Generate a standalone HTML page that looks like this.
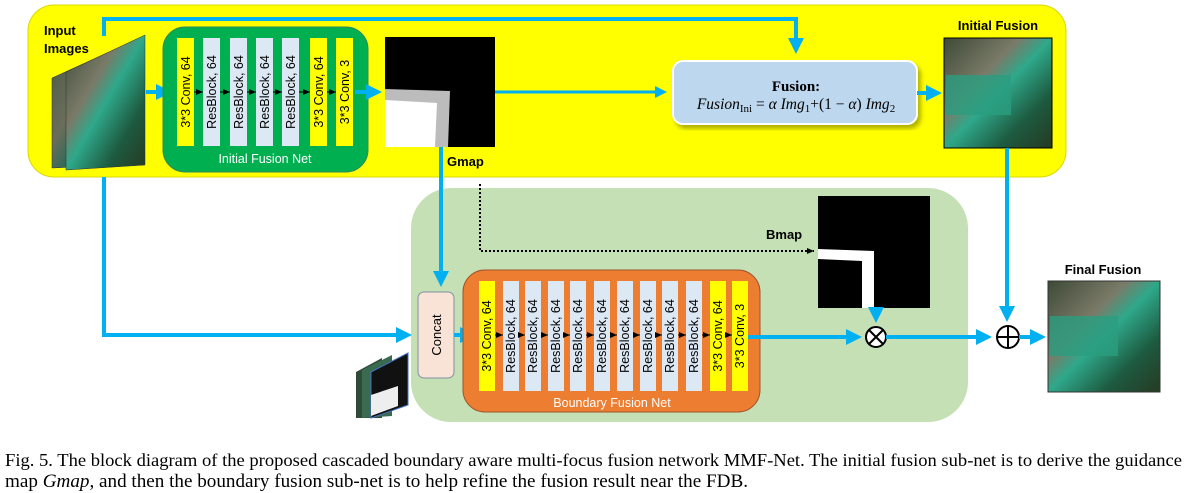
<!DOCTYPE html>
<html><head><meta charset="utf-8"><style>
html,body{margin:0;padding:0;background:#fff;width:1187px;height:493px;overflow:hidden}
svg{display:block}
.s{font-family:"Liberation Sans",sans-serif}
.blk{font-family:"Liberation Sans",sans-serif;font-size:12.5px;fill:#000}
</style></head><body>
<svg width="1187" height="493" viewBox="0 0 1187 493" xmlns="http://www.w3.org/2000/svg">
<defs>
<marker id="a" markerWidth="4" markerHeight="4" refX="3" refY="2" orient="auto" markerUnits="strokeWidth"><path d="M0,0 L4,2 L0,4 z" fill="#00b0f0"/></marker>
<marker id="k" markerWidth="8" markerHeight="8" refX="7" refY="4" orient="auto" markerUnits="userSpaceOnUse"><path d="M0,1 L7,4 L0,7 z" fill="#000"/></marker>
<linearGradient id="img" x1="0" y1="0" x2="1" y2="1"><stop offset="0" stop-color="#4a5a45"/><stop offset="0.4" stop-color="#6a6e5a"/><stop offset="0.6" stop-color="#2d6a5a"/><stop offset="1" stop-color="#1f3a25"/></linearGradient>
<linearGradient id="img2" x1="0" y1="0" x2="1" y2="1"><stop offset="0" stop-color="#3d4a36"/><stop offset="0.35" stop-color="#7a7a68"/><stop offset="0.5" stop-color="#2fa88a"/><stop offset="0.75" stop-color="#1d5a40"/><stop offset="1" stop-color="#263a22"/></linearGradient>
<filter id="sh"><feDropShadow dx="3" dy="4" stdDeviation="2" flood-color="#000" flood-opacity="0.3"/></filter>
</defs>

<rect x="28" y="5" width="1038" height="172" rx="26" fill="#ffff00" stroke="#d8d800" stroke-width="1"/>
<rect x="411" y="188" width="557" height="234" rx="40" fill="#c5e0b4"/>

<polyline points="104,36 104,19 796,19 796,50" fill="none" stroke="#00b0f0" stroke-width="4" marker-end="url(#a)"/>

<polygon points="52,78 118,48 118,165 52,168" fill="url(#img)" stroke="#333" stroke-width="0.5"/>
<polygon points="66,72 145,35 145,165 66,170" fill="url(#img2)" stroke="#333" stroke-width="0.5"/>
<text x="44" y="35" class="s" font-size="13" font-weight="bold">Input</text>
<text x="44" y="53" class="s" font-size="13" font-weight="bold">Images</text>

<line x1="146" y1="92" x2="168" y2="92" stroke="#00b0f0" stroke-width="4" marker-end="url(#a)"/>

<rect x="163" y="27" width="205" height="145" rx="22" fill="#00b050" stroke="#2e8b57"/>
<g>
<rect x="177" y="38" width="17" height="108" fill="#ffff00"/>
<rect x="203" y="38" width="17" height="108" fill="#dde8f5"/>
<rect x="230" y="38" width="17" height="108" fill="#dde8f5"/>
<rect x="256" y="38" width="17" height="108" fill="#dde8f5"/>
<rect x="282" y="38" width="17" height="108" fill="#dde8f5"/>
<rect x="310" y="38" width="17" height="108" fill="#ffff00"/>
<rect x="336" y="38" width="17" height="108" fill="#ffff00"/>
</g>
<g stroke="#000" stroke-width="1">
<line x1="194" y1="92" x2="203" y2="92" marker-end="url(#k)"/>
<line x1="220" y1="92" x2="230" y2="92" marker-end="url(#k)"/>
<line x1="247" y1="92" x2="256" y2="92" marker-end="url(#k)"/>
<line x1="273" y1="92" x2="282" y2="92" marker-end="url(#k)"/>
<line x1="299" y1="92" x2="310" y2="92" marker-end="url(#k)"/>
<line x1="327" y1="92" x2="336" y2="92" marker-end="url(#k)"/>
</g>
<g class="blk">
<text transform="translate(190,92) rotate(-90)" text-anchor="middle">3*3 Conv, 64</text>
<text transform="translate(216,92) rotate(-90)" text-anchor="middle">ResBlock, 64</text>
<text transform="translate(243,92) rotate(-90)" text-anchor="middle">ResBlock, 64</text>
<text transform="translate(269,92) rotate(-90)" text-anchor="middle">ResBlock, 64</text>
<text transform="translate(295,92) rotate(-90)" text-anchor="middle">ResBlock, 64</text>
<text transform="translate(323,92) rotate(-90)" text-anchor="middle">3*3 Conv, 64</text>
<text transform="translate(349,92) rotate(-90)" text-anchor="middle">3*3 Conv, 3</text>
</g>
<text x="265" y="163" class="s" font-size="12.5" fill="#fff" text-anchor="middle">Initial Fusion Net</text>

<line x1="355" y1="92" x2="378" y2="92" stroke="#00b0f0" stroke-width="4" marker-end="url(#a)"/>

<rect x="385" y="37" width="110" height="110" fill="#000"/>
<polygon points="385,89 450,91 448,147 385,147" fill="#bcbcbc"/>
<polygon points="385,100 437,103 435,147 385,147" fill="#fff"/>
<text x="447" y="166" class="s" font-size="13" font-weight="bold">Gmap</text>

<line x1="495" y1="92" x2="664" y2="92" stroke="#00b0f0" stroke-width="3" marker-end="url(#a)"/>

<rect x="673" y="61" width="244" height="63" rx="10" fill="#bdd7ee" stroke="#fff" stroke-width="2" filter="url(#sh)"/>
<text x="796" y="91" font-family="Liberation Serif,serif" font-size="15" font-weight="bold" text-anchor="middle">Fusion:</text>
<text x="796" y="109" font-family="Liberation Serif,serif" font-size="15.5" text-anchor="middle"><tspan font-style="italic">Fusion</tspan><tspan font-size="11" dy="3">Ini</tspan><tspan dy="-3"> = </tspan><tspan font-style="italic">α Img</tspan><tspan font-size="11" dy="3">1</tspan><tspan dy="-3">+(1 − </tspan><tspan font-style="italic">α</tspan>) <tspan font-style="italic">Img</tspan><tspan font-size="11" dy="3">2</tspan></text>

<line x1="917" y1="93" x2="938" y2="93" stroke="#00b0f0" stroke-width="4" marker-end="url(#a)"/>

<rect x="944" y="38" width="108" height="110" fill="url(#img2)" stroke="#000"/>
<rect x="946" y="75" width="65" height="40" fill="#2a9e80" opacity="0.8"/>
<text x="998" y="30" class="s" font-size="13" font-weight="bold" text-anchor="middle">Initial Fusion</text>

<line x1="1007" y1="148" x2="1007" y2="318" stroke="#00b0f0" stroke-width="4" marker-end="url(#a)"/>

<polyline points="104,177 104,335 408,335" fill="none" stroke="#00b0f0" stroke-width="4" marker-end="url(#a)"/>
<line x1="441" y1="147" x2="441" y2="283" stroke="#00b0f0" stroke-width="4" marker-end="url(#a)"/>

<polyline points="480,184 480,251 814,251" fill="none" stroke="#000" stroke-width="2" stroke-dasharray="2,2" marker-end="url(#k)"/>

<rect x="818" y="196" width="112" height="112" fill="#000"/>
<polygon points="818,249 874,251 874,308 862,308 862,261 818,259" fill="#fff"/>
<text x="766" y="239" class="s" font-size="13" font-weight="bold">Bmap</text>

<rect x="418" y="292" width="36" height="86" rx="6" fill="#f9e3d6" stroke="#7f8fa6"/>
<text transform="translate(441,335) rotate(-90)" class="s" font-size="13" text-anchor="middle">Concat</text>

<polygon points="356,372 382,358 382,418 356,418" fill="#2f4a38"/>
<polygon points="362,370 392,355 392,416 362,418" fill="#3a6a50"/>
<polygon points="371,372 408,353 408,405 371,418" fill="#111" stroke="#4472c4"/>
<polygon points="371,395 398,386 398,406 371,416" fill="#eee"/>

<line x1="454" y1="335" x2="472" y2="335" stroke="#00b0f0" stroke-width="4" marker-end="url(#a)"/>

<rect x="463" y="270" width="297" height="142" rx="22" fill="#ed7d31" stroke="#a0522d"/>
<g>
<rect x="479" y="281" width="16" height="110" fill="#ffff00"/>
<rect x="503" y="281" width="16" height="110" fill="#dde8f5"/>
<rect x="525" y="281" width="16" height="110" fill="#dde8f5"/>
<rect x="548" y="281" width="16" height="110" fill="#dde8f5"/>
<rect x="570" y="281" width="16" height="110" fill="#dde8f5"/>
<rect x="594" y="281" width="16" height="110" fill="#dde8f5"/>
<rect x="617" y="281" width="16" height="110" fill="#dde8f5"/>
<rect x="640" y="281" width="16" height="110" fill="#dde8f5"/>
<rect x="662" y="281" width="16" height="110" fill="#dde8f5"/>
<rect x="686" y="281" width="16" height="110" fill="#dde8f5"/>
<rect x="710" y="281" width="16" height="110" fill="#ffff00"/>
<rect x="732" y="281" width="16" height="110" fill="#ffff00"/>
</g>
<g stroke="#000" stroke-width="1">
<line x1="495" y1="335" x2="503" y2="335" marker-end="url(#k)"/>
<line x1="519" y1="335" x2="525" y2="335" marker-end="url(#k)"/>
<line x1="541" y1="335" x2="548" y2="335" marker-end="url(#k)"/>
<line x1="564" y1="335" x2="570" y2="335" marker-end="url(#k)"/>
<line x1="586" y1="335" x2="594" y2="335" marker-end="url(#k)"/>
<line x1="610" y1="335" x2="617" y2="335" marker-end="url(#k)"/>
<line x1="633" y1="335" x2="640" y2="335" marker-end="url(#k)"/>
<line x1="656" y1="335" x2="662" y2="335" marker-end="url(#k)"/>
<line x1="678" y1="335" x2="686" y2="335" marker-end="url(#k)"/>
<line x1="702" y1="335" x2="710" y2="335" marker-end="url(#k)"/>
<line x1="726" y1="335" x2="732" y2="335" marker-end="url(#k)"/>
</g>
<g class="blk">
<text transform="translate(491,336) rotate(-90)" text-anchor="middle">3*3 Conv, 64</text>
<text transform="translate(515,336) rotate(-90)" text-anchor="middle">ResBlock, 64</text>
<text transform="translate(537,336) rotate(-90)" text-anchor="middle">ResBlock, 64</text>
<text transform="translate(560,336) rotate(-90)" text-anchor="middle">ResBlock, 64</text>
<text transform="translate(582,336) rotate(-90)" text-anchor="middle">ResBlock, 64</text>
<text transform="translate(606,336) rotate(-90)" text-anchor="middle">ResBlock, 64</text>
<text transform="translate(629,336) rotate(-90)" text-anchor="middle">ResBlock, 64</text>
<text transform="translate(652,336) rotate(-90)" text-anchor="middle">ResBlock, 64</text>
<text transform="translate(674,336) rotate(-90)" text-anchor="middle">ResBlock, 64</text>
<text transform="translate(698,336) rotate(-90)" text-anchor="middle">ResBlock, 64</text>
<text transform="translate(722,336) rotate(-90)" text-anchor="middle">3*3 Conv, 64</text>
<text transform="translate(744,336) rotate(-90)" text-anchor="middle">3*3 Conv, 3</text>
</g>
<text x="612" y="407" class="s" font-size="12.5" fill="#fff" text-anchor="middle">Boundary Fusion Net</text>

<line x1="748" y1="337" x2="858" y2="337" stroke="#00b0f0" stroke-width="4" marker-end="url(#a)"/>
<line x1="876" y1="308" x2="876" y2="319" stroke="#00b0f0" stroke-width="4" marker-end="url(#a)"/>
<circle cx="876" cy="337" r="10" fill="#fff" stroke="#000" stroke-width="2"/>
<line x1="869" y1="330" x2="883" y2="344" stroke="#000" stroke-width="2"/>
<line x1="883" y1="330" x2="869" y2="344" stroke="#000" stroke-width="2"/>

<line x1="886" y1="337" x2="988" y2="337" stroke="#00b0f0" stroke-width="4" marker-end="url(#a)"/>
<circle cx="1008" cy="337" r="11" fill="#fff" stroke="#000" stroke-width="2"/>
<line x1="997" y1="337" x2="1019" y2="337" stroke="#000" stroke-width="2"/>
<line x1="1008" y1="326" x2="1008" y2="348" stroke="#000" stroke-width="2"/>
<line x1="1019" y1="337" x2="1042" y2="337" stroke="#00b0f0" stroke-width="4" marker-end="url(#a)"/>

<rect x="1048" y="281" width="112" height="111" fill="url(#img2)" stroke="#333"/>
<rect x="1050" y="316" width="68" height="40" fill="#2a9e80" opacity="0.8"/>
<text x="1103" y="274" class="s" font-size="13" font-weight="bold" text-anchor="middle">Final Fusion</text>

<text x="5" y="466" font-family="Liberation Serif,serif" font-size="18" textLength="1177" lengthAdjust="spacingAndGlyphs">Fig. 5.  The block diagram of the proposed cascaded boundary aware multi-focus fusion network MMF-Net. The initial fusion sub-net is to derive the guidance</text>
<text x="5" y="487" font-family="Liberation Serif,serif" font-size="18.5" textLength="743" lengthAdjust="spacingAndGlyphs">map <tspan font-style="italic">Gmap</tspan>, and then the boundary fusion sub-net is to help refine the fusion result near the FDB.</text>
</svg>
</body></html>
